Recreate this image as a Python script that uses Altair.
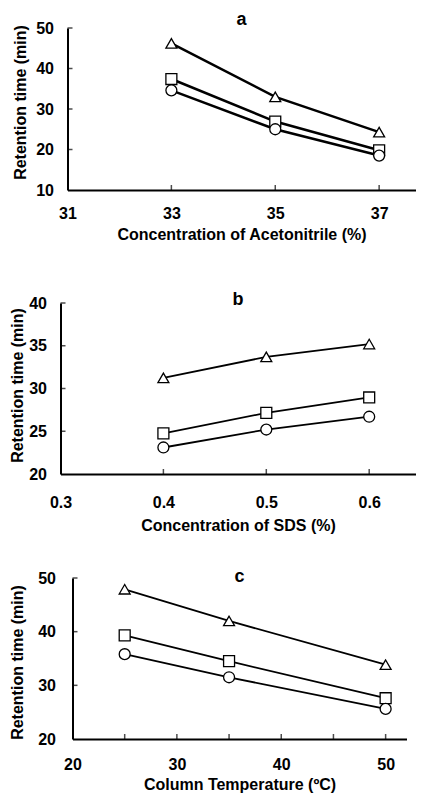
import altair as alt
import pandas as pd

FONT = "Liberation Sans"

series = ["triangle", "square", "circle"]
shapes = ["triangle-up", "square", "circle"]

# Panel a: Concentration of Acetonitrile
a_x = [33, 35, 37]
a_triangle = [46.2, 33.0, 24.3]
a_square = [37.4, 26.9, 19.8]
a_circle = [34.6, 25.0, 18.5]

# Panel b: Concentration of SDS
b_x = [0.4, 0.5, 0.6]
b_triangle = [31.25, 33.7, 35.2]
b_square = [24.75, 27.15, 28.95]
b_circle = [23.1, 25.2, 26.7]

# Panel c: Column Temperature
c_x = [25, 35, 50]
c_triangle = [47.9, 42.0, 33.85]
c_square = [39.3, 34.5, 27.6]
c_circle = [35.8, 31.5, 25.6]

a_xlabels = [31, 33, 35, 37]
a_ylabels = [10, 20, 30, 40, 50]
a_xticks = [33, 35, 37]
a_yticks = [20, 30, 40, 50]

b_xlabels = [0.3, 0.4, 0.5, 0.6]
b_ylabels = [20, 25, 30, 35, 40]
b_xticks = [0.4, 0.5, 0.6]
b_yticks = [25, 30, 35, 40]

c_xlabels = [20, 30, 40, 50]
c_ylabels = [20, 30, 40, 50]
c_xticks = [25, 30, 35, 40, 45, 50]
c_yticks = [30, 40, 50]


def long_df(xs, tri, sq, circ):
    rows = []
    for name, ys in zip(series, [tri, sq, circ]):
        for xv, yv in zip(xs, ys):
            rows.append({"x": xv, "y": yv, "s": name})
    return pd.DataFrame(rows)


def panel(df, title, title_y, xtitle, xdomain, ydomain, xlabels, ylabels,
          xticks, yticks, width, height, xfmt, lw,
          x_lpad, x_tpad, y_lpad, y_tpad, y_titley):
    x_enc = alt.X("x:Q",
                  scale=alt.Scale(domain=xdomain, nice=False, zero=False),
                  axis=alt.Axis(values=xlabels, format=xfmt, title=xtitle,
                                labelPadding=x_lpad, titlePadding=x_tpad))
    y_enc = alt.Y("y:Q",
                  scale=alt.Scale(domain=ydomain, nice=False, zero=False),
                  axis=alt.Axis(values=ylabels, format="d",
                                title="Retention time (min)",
                                labelPadding=y_lpad, titlePadding=y_tpad,
                                titleY=y_titley))
    lines = alt.Chart(df).mark_line(color="black", strokeWidth=lw).encode(
        x=x_enc, y=y_enc, detail="s:N")
    points = alt.Chart(df).mark_point(
        filled=True, fill="white", stroke="black", strokeWidth=1.3,
        size=120, opacity=1).encode(
        x=x_enc, y=y_enc,
        shape=alt.Shape("s:N", scale=alt.Scale(domain=series, range=shapes),
                        legend=None))
    xt = pd.DataFrame({"x": xticks, "y": [ydomain[0]] * len(xticks)})
    yt = pd.DataFrame({"x": [xdomain[0]] * len(yticks), "y": yticks})
    xtick_marks = alt.Chart(xt).mark_tick(
        orient="vertical", size=5, thickness=1.5, color="black",
        yOffset=-2.5).encode(x=x_enc, y=y_enc)
    ytick_marks = alt.Chart(yt).mark_tick(
        orient="horizontal", size=5, thickness=1.5, color="black",
        xOffset=2.5).encode(x=x_enc, y=y_enc)
    ttl = alt.Chart(pd.DataFrame({"t": [title]})).mark_text(
        font=FONT, fontSize=18, fontWeight="bold", baseline="alphabetic",
        align="center", color="black").encode(
        text="t:N", x=alt.value(width / 2), y=alt.value(title_y))
    return alt.layer(lines, xtick_marks, ytick_marks, points, ttl).properties(
        width=width, height=height)


def spacer(w, h):
    return alt.Chart(pd.DataFrame({"v": [0]})).mark_point(opacity=0).encode(
        x=alt.value(0), y=alt.value(0)).properties(width=w, height=h)


pa = panel(long_df(a_x, a_triangle, a_square, a_circle), "a", -2.7,
           "Concentration of Acetonitrile (%)", [31, 37.7], [10, 50],
           a_xlabels, a_ylabels, a_xticks, a_yticks, 348, 162, "d", 2.5,
           15.7, 4.4, 14, 7.2, 74)
pb = panel(long_df(b_x, b_triangle, b_square, b_circle), "b", 2.3,
           "Concentration of SDS (%)", [0.3, 0.645], [20, 40],
           b_xlabels, b_ylabels, b_xticks, b_yticks, 355, 171, ".1f", 1.8,
           20.5, 7.3, 14, 3.2, 82)
pc = panel(long_df(c_x, c_triangle, c_square, c_circle), "c", 4.4,
           "Column Temperature (ºC)", [20, 52], [20, 50],
           c_xlabels, c_ylabels, c_xticks, c_yticks, 334, 161, "d", 1.8,
           17.4, 4, 17, 12, 84)

row_a = alt.hconcat(spacer(6, 263), pa, spacing=0)
row_b = alt.hconcat(spacer(1, 264.5), pb, spacing=0)
row_c = alt.hconcat(spacer(1.2, 1), pc, spacing=0)

chart = alt.vconcat(row_a, row_b, row_c, spacing=0).properties(
    padding={"left": -4.5, "top": 3, "right": 0, "bottom": 0}
).configure_view(stroke=None).configure_axis(
    domainColor="black", domainWidth=2, ticks=False, tickSize=0, grid=False,
    labelFont=FONT, labelFontSize=16, labelFontWeight="bold", labelColor="black",
    titleFont=FONT, titleFontSize=16, titleFontWeight="bold", titleColor="black",
    labelFlush=False, labelOverlap=False
)

chart.save("out.html", embed_options={"renderer": "svg", "actions": False})
